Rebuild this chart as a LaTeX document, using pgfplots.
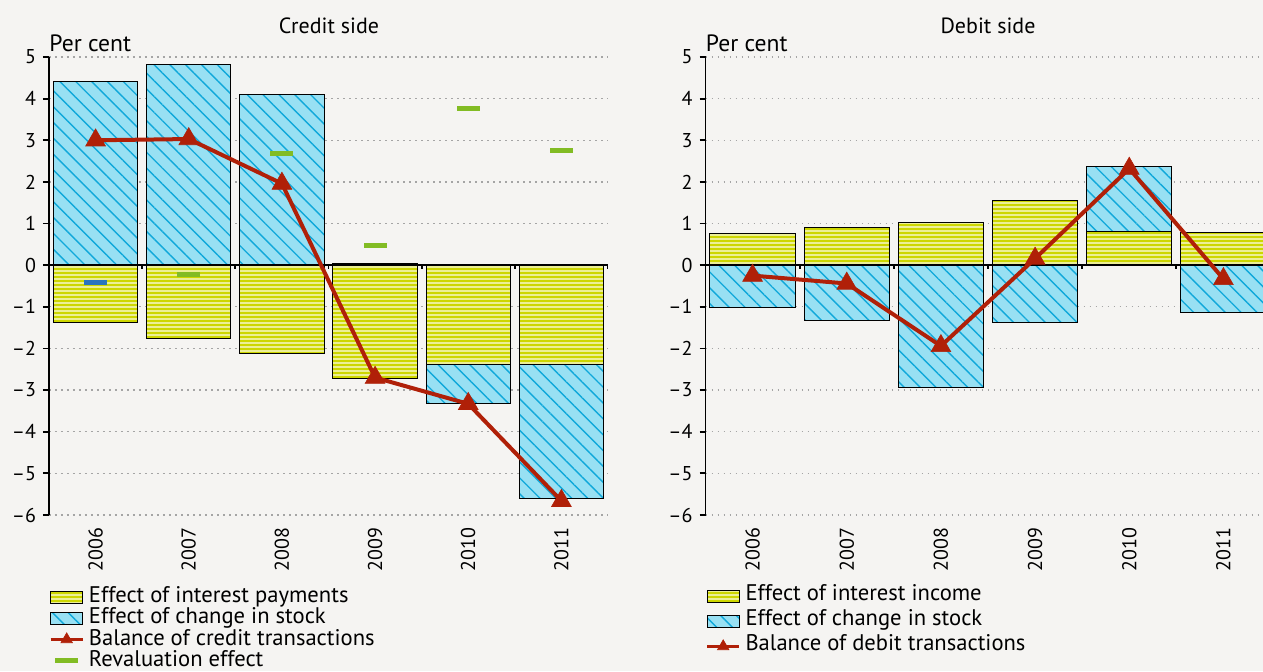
\documentclass[border=0pt]{standalone}
\usepackage{fontspec}
\setmainfont{PT Sans}
\usepackage{pgfplots}
\pgfplotsset{compat=1.18}
\usetikzlibrary{patterns.meta}

\definecolor{bg}{RGB}{245,244,242}
\definecolor{yfill}{RGB}{205,214,0}
\definecolor{ystripe}{RGB}{236,239,150}
\definecolor{cfill}{RGB}{152,224,243}
\definecolor{cline}{RGB}{16,168,218}
\definecolor{redl}{RGB}{176,32,8}
\definecolor{greenm}{RGB}{130,188,36}
\definecolor{bluem}{RGB}{42,116,190}
\definecolor{gridc}{RGB}{165,165,165}

\tikzset{
  interest/.style={draw=black, line width=0.5pt, fill=yfill,
    postaction={pattern={Lines[angle=0,distance=2pt,line width=0.85pt]}, pattern color=ystripe}},
  stock/.style={draw=black, line width=0.5pt, fill=cfill,
    postaction={pattern={Lines[angle=-45,distance=5.6pt,line width=0.7pt]}, pattern color=cline}},
  balance/.style={redl, line width=2pt, mark=triangle*, mark size=5.7pt,
    mark options={solid, fill=redl, draw=redl, line width=0.3pt}},
}
\pgfplotsset{
  barimg/.style={legend image code/.code={\draw[##1] (0pt,-3pt) rectangle (16pt,3pt);}},
  lineimg/.style={legend image code/.code={\draw[mark repeat=2,mark phase=2,##1,mark size=3.3pt,line width=1.3pt] plot coordinates {(0pt,0pt) (8pt,0pt) (16pt,0pt)};}},
  revimg/.style={legend image code/.code={\draw[greenm, line width=2.5pt] (2.25pt,0pt) -- (13.75pt,0pt);}},
  common/.style={
    scale only axis, height=229pt,
    xmin=-0.5, xmax=5.5, ymin=-6, ymax=5,
    axis y line*=left, axis x line*=bottom,
    x axis line style={draw=none},
    y axis line style={line width=0.9pt, black},
    xtick={0,1,2,3,4,5}, xticklabels={2006,2007,2008,2009,2010,2011},
    xtick style={draw=none},
    xticklabel style={rotate=90, anchor=east, font=\fontsize{10}{12}\selectfont},
    ytick={-6,-5,-4,-3,-2,-1,0,1,2,3,4,5},
    yticklabels={\textendash 6,\textendash 5,\textendash 4,\textendash 3,\textendash 2,\textendash 1,0,1,2,3,4,5},
    yticklabel style={font=\fontsize{10}{12}\selectfont},
    ytick style={line width=0.9pt, black},
    tick align=outside, major tick length=3pt,
    ymajorgrids, grid style={gridc, line width=0.6pt, dash pattern=on 0.8pt off 2.2pt},
    legend cell align=left,
    legend style={draw=none, fill=none, at={(0,0)}, anchor=north west,
      inner sep=0pt, row sep=0pt, font=\fontsize{11.3}{13}\selectfont,
      /tikz/every odd column/.append style={column sep=2.5pt}},
  },
}

\begin{document}
\begin{tikzpicture}
\useasboundingbox (0,0) rectangle (631.5pt,-335.5pt);
\fill[bg] (0,0) rectangle (631.5pt,-335.5pt);

% ---------------- Credit side ----------------
\begin{axis}[common, width=279.5pt, at={(24.5pt,-28.5pt)}, anchor=north west,
  legend style={yshift=-35.5pt, nodes={inner sep=0pt, text height=8.1pt, text depth=2.5pt}}]
\addlegendimage{barimg, interest}\addlegendentry{Effect of interest payments}
\addlegendimage{barimg, stock}\addlegendentry{Effect of change in stock}
\addlegendimage{lineimg, balance}\addlegendentry{Balance of credit transactions}
\addlegendimage{revimg}\addlegendentry{Revaluation effect}

% change in stock (where it shares the sign of interest, the bar runs to the total)
\addplot[ybar, bar width=0.905, bar shift=0pt, stock, forget plot] coordinates
  {(0,4.40) (1,4.82) (2,4.11) (3,0.03) (4,-3.32) (5,-5.61)};
% interest payments
\addplot[ybar, bar width=0.905, bar shift=0pt, interest, forget plot] coordinates
  {(0,-1.38) (1,-1.76) (2,-2.13) (3,-2.73) (4,-2.38) (5,-2.38)};

\draw[black, line width=0.9pt] (axis cs:-0.5,0) -- (axis cs:5.5,0);
\pgfplotsinvokeforeach{0.5,1.5,2.5,3.5,4.5,5.5}{\draw[black, line width=0.9pt] (axis cs:#1,0) -- ++(0pt,-1.8pt);}

% balance of credit transactions
\addplot[sharp plot, balance, forget plot] coordinates
  {(0,3.00) (1,3.03) (2,1.96) (3,-2.70) (4,-3.33) (5,-5.66)};
% revaluation effect
\addplot[only marks, mark=-, mark size=5.75pt, mark options={greenm, line width=2.5pt}, forget plot] coordinates
  {(1,-0.23) (2,2.69) (3,0.47) (4,3.76) (5,2.76)};
\addplot[only marks, mark=-, mark size=5.75pt, mark options={bluem, line width=2.5pt}, forget plot] coordinates
  {(0,-0.42)};
\end{axis}

% ---------------- Debit side ----------------
\begin{axis}[common, width=282.5pt, at={(352.75pt,-28.5pt)}, anchor=north west,
  legend style={yshift=-34.25pt, nodes={inner sep=0pt, text height=8.4pt, text depth=4.1pt}}]
\addlegendimage{barimg, interest}\addlegendentry{Effect of interest income}
\addlegendimage{barimg, stock}\addlegendentry{Effect of change in stock}
\addlegendimage{lineimg, balance}\addlegendentry{Balance of debit transactions}

\addplot[ybar, bar width=0.905, bar shift=0pt, stock, forget plot] coordinates
  {(0,-1.02) (1,-1.34) (2,-2.94) (3,-1.38) (4,2.36) (5,-1.13)};
\addplot[ybar, bar width=0.905, bar shift=0pt, interest, forget plot] coordinates
  {(0,0.76) (1,0.90) (2,1.03) (3,1.55) (4,0.82) (5,0.79)};

\draw[black, line width=0.9pt] (axis cs:-0.5,0) -- (axis cs:5.5,0);
\pgfplotsinvokeforeach{0.5,1.5,2.5,3.5,4.5,5.5}{\draw[black, line width=0.9pt] (axis cs:#1,0) -- ++(0pt,-1.8pt);}

\addplot[sharp plot, balance, forget plot] coordinates
  {(0,-0.25) (1,-0.44) (2,-1.94) (3,0.16) (4,2.32) (5,-0.33)};
\end{axis}

% titles and unit labels
\node[anchor=base, font=\fontsize{11}{13}\selectfont] at (164.5pt,-16.5pt) {Credit side};
\node[anchor=base, font=\fontsize{11}{13}\selectfont] at (494pt,-16.5pt) {Debit side};
\node[anchor=base west, inner sep=0pt, font=\fontsize{11.8}{13}\selectfont] at (24.5pt,-25.5pt) {Per cent};
\node[anchor=base west, inner sep=0pt, font=\fontsize{11.8}{13}\selectfont] at (352.75pt,-25.5pt) {Per cent};
\end{tikzpicture}
\end{document}
